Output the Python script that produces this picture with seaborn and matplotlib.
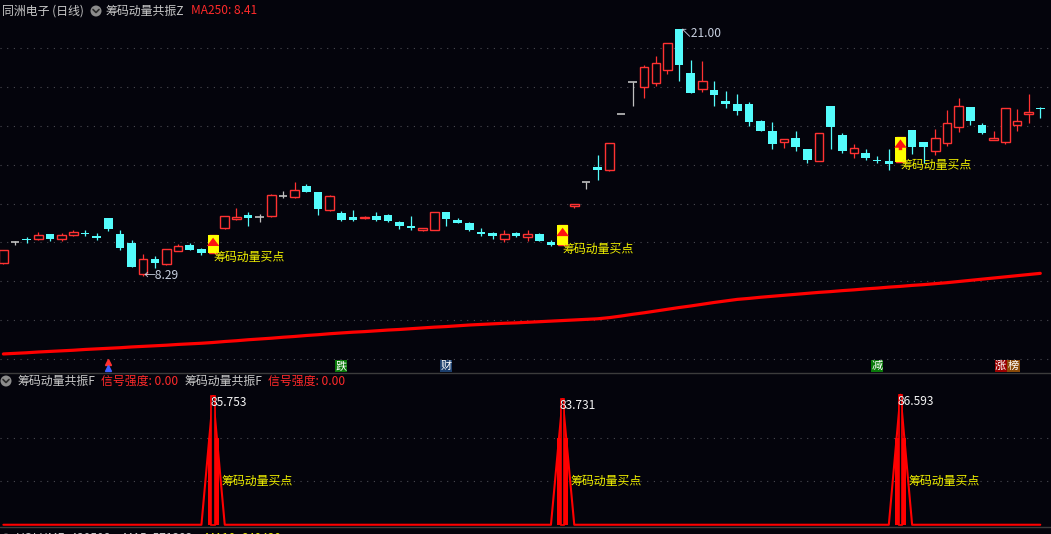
import matplotlib
matplotlib.use("Agg")
import matplotlib.pyplot as plt
import matplotlib.transforms as mtransforms
from matplotlib.lines import Line2D
from matplotlib.patches import Circle
import seaborn as sns

# -----------------------------
# Data
# -----------------------------
opens = [8.93, 10.04, 10.17, 10.20, 10.44, 10.16, 10.40, 10.51, 10.35, 11.25,
         10.44, 9.99, 8.36, 9.13, 8.88, 9.58, 9.87, 9.67, 9.44, 10.76,
         11.19, 11.42, 11.33, 11.38, 12.41, 12.33, 12.91, 12.60, 11.67, 11.54,
         11.33, 11.25, 11.36, 11.43, 11.06, 10.85, 10.64, 10.66, 11.57, 11.16,
         11.02, 10.56, 10.47, 10.18, 10.47, 10.27, 10.44, 10.04, 9.87, 11.88,
         13.13, 13.90, 13.72, 16.60, 18.25, 18.02, 18.23, 18.88, 21.00, 18.74,
         17.90, 17.85, 17.29, 17.13, 17.13, 16.26, 15.74, 15.19, 15.38, 14.81,
         14.21, 17.03, 15.54, 14.59, 14.59, 14.25, 14.20, 14.16, 15.79, 15.18,
         14.73, 15.11, 15.93, 16.96, 16.05, 15.29, 15.19, 16.05, 16.62, 16.91]
highs = [9.63, 10.06, 10.30, 10.53, 10.46, 10.50, 10.64, 10.64, 10.47, 11.26,
         10.64, 10.13, 9.39, 9.30, 9.66, 9.90, 9.99, 9.70, 10.39, 11.36,
         11.76, 11.56, 11.47, 12.48, 12.67, 13.12, 13.01, 12.62, 12.42, 11.62,
         11.67, 11.35, 11.57, 11.45, 11.10, 11.36, 10.76, 11.57, 11.58, 11.24,
         11.03, 10.75, 10.56, 10.64, 10.56, 10.64, 10.47, 10.13, 10.90, 11.98,
         13.13, 14.51, 15.11, 16.60, 18.25, 19.14, 19.60, 20.26, 21.00, 19.40,
         19.35, 18.32, 17.80, 17.65, 17.23, 16.30, 16.20, 15.35, 15.74, 14.83,
         15.62, 17.05, 15.62, 15.07, 14.81, 14.46, 14.81, 15.45, 15.80, 15.20,
         15.84, 16.82, 17.44, 16.98, 16.14, 15.74, 16.91, 16.87, 17.65, 16.99]
lows = [8.90, 9.87, 9.99, 10.13, 10.10, 10.06, 10.35, 10.33, 10.13, 10.60,
        9.61, 8.75, 8.29, 8.70, 8.85, 9.55, 9.60, 9.36, 9.44, 10.71,
        11.17, 10.85, 11.07, 11.30, 12.27, 12.30, 12.60, 11.42, 11.62, 11.12,
        11.10, 11.20, 11.10, 11.07, 10.71, 10.64, 10.59, 10.64, 10.87, 10.98,
        10.60, 10.33, 10.20, 10.01, 10.27, 10.10, 10.07, 9.80, 9.87, 11.79,
        12.74, 13.22, 13.70, 16.60, 17.04, 17.46, 18.07, 18.66, 18.32, 17.68,
        17.77, 17.03, 16.94, 16.57, 16.00, 15.72, 14.83, 14.88, 14.73, 14.11,
        14.20, 14.81, 14.63, 14.34, 14.25, 14.11, 13.73, 14.16, 14.56, 14.11,
        14.52, 14.98, 15.71, 16.05, 15.60, 15.28, 15.07, 15.74, 16.17, 16.40]
closes = [9.61, 10.04, 10.13, 10.37, 10.18, 10.39, 10.53, 10.44, 10.25, 10.69,
          9.73, 8.75, 9.13, 8.96, 9.65, 9.84, 9.61, 9.47, 10.39, 11.36,
          11.33, 11.25, 11.33, 12.43, 12.41, 12.70, 12.62, 11.72, 12.39, 11.16,
          11.16, 11.30, 11.16, 11.11, 10.85, 10.75, 10.75, 11.57, 11.21, 11.02,
          10.64, 10.44, 10.35, 10.44, 10.35, 10.45, 10.08, 9.89, 10.90, 11.98,
          13.13, 13.73, 15.11, 16.60, 18.25, 19.02, 19.23, 20.26, 19.14, 17.68,
          18.32, 17.59, 17.15, 16.79, 16.22, 15.76, 15.07, 15.33, 14.93, 14.25,
          15.62, 15.96, 14.71, 14.85, 14.37, 14.20, 14.04, 15.45, 14.90, 14.93,
          15.37, 16.14, 17.03, 16.27, 15.62, 15.36, 16.91, 16.27, 16.70, 16.86]
ma250 = [4.26, 4.29, 4.32, 4.36, 4.39, 4.42, 4.45, 4.49, 4.52, 4.55,
         4.58, 4.62, 4.65, 4.68, 4.71, 4.75, 4.78, 4.81, 4.85, 4.90,
         4.94, 4.99, 5.03, 5.07, 5.12, 5.16, 5.21, 5.25, 5.30, 5.34,
         5.38, 5.41, 5.45, 5.49, 5.52, 5.56, 5.60, 5.64, 5.67, 5.71,
         5.75, 5.78, 5.81, 5.84, 5.86, 5.89, 5.92, 5.95, 5.98, 6.01,
         6.04, 6.07, 6.13, 6.21, 6.30, 6.38, 6.47, 6.56, 6.65, 6.73,
         6.82, 6.91, 6.99, 7.07, 7.12, 7.18, 7.23, 7.28, 7.33, 7.38,
         7.43, 7.47, 7.52, 7.56, 7.61, 7.65, 7.70, 7.74, 7.79, 7.83,
         7.88, 7.93, 7.99, 8.05, 8.11, 8.17, 8.23, 8.29, 8.35, 8.41]

signal_days = [18, 48, 77]
signal_peaks = [85.753, 83.731, 86.593]
strength = [0.0] * len(closes)
for d, v in zip(signal_days, signal_peaks):
    strength[d] = v

grid_prices = [4, 6, 8, 10, 12, 14, 16, 18, 20]
sub_grid = [29.1, 57.8]
events = [(29, "跌", "#0a7a0a"), (38, "财", "#1c3f6e"), (75, "减", "#0a7a0a"),
          (85.6, "涨", "#9a0000"), (86.7, "榜", "#8a4a08")]

# -----------------------------
# Style
# -----------------------------
BG = "#04040c"
UP = "#ff3232"
DOWN = "#54fcfc"
FLAT = "#c0c0c0"
TXT = "#c8c8c8"
RED_TXT = "#ff2a2a"
YEL = "#ffff00"
GRID = "#4a4a52"

sns.set_theme(style="dark", rc={"axes.facecolor": BG, "figure.facecolor": BG})
plt.rcParams["font.family"] = ["Noto Sans CJK SC", "DejaVu Sans"]

W, H = 1051, 534
fig = plt.figure(figsize=(W / 100, H / 100), dpi=100, facecolor=BG)


def fy(py):
    return 1 - py / H


ax = fig.add_axes([0, fy(372), 1, (372 - 18) / H])
sub = fig.add_axes([0, fy(527), 1, (527 - 388) / H])
for a in (ax, sub):
    a.set_axis_off()
    a.set_xlim(-0.29, 89.92)
ax.set_ylim(3.33, 21.56)
sub.set_ylim(-1.5, 91.1)

idx = list(range(len(closes)))

# -----------------------------
# Main panel
# -----------------------------
for p in grid_prices:
    ax.axhline(p, color=GRID, lw=0.8, ls=(0, (1, 5)), zorder=0)

BW = 0.74
for i in idx:
    o, h, l, c = opens[i], highs[i], lows[i], closes[i]
    if c > o:
        col = UP
    elif c < o:
        col = DOWN
    else:
        col = FLAT
    ax.vlines(i, l, h, color=col, lw=0.9, zorder=2)
    if c > o:
        ax.bar(i, c - o, bottom=o, width=BW, facecolor=BG, edgecolor=UP, lw=1.0, zorder=3)
    elif c < o:
        ax.bar(i, o - c, bottom=c, width=BW, color=DOWN, lw=0, zorder=3)
    else:
        ax.hlines(c, i - BW / 2, i + BW / 2, color=col, lw=1.2, zorder=3)

sns.lineplot(x=idx, y=ma250, ax=ax, color="#ff0000", lw=2.3, zorder=4)

for d in signal_days:
    lo, hi = lows[d], highs[d]
    ax.bar(d, hi - lo, bottom=lo, width=0.95, color=YEL, lw=0, zorder=5)
    ax.annotate("", xy=(d, hi), xytext=(d, lo + 0.35 * (hi - lo)),
                arrowprops=dict(arrowstyle="simple,head_width=0.9,head_length=0.6,tail_width=0.25",
                                color="#ff1010", lw=0, mutation_scale=10), zorder=6)
    ax.annotate("筹码动量买点", xy=(d, lo), xytext=(0, -4), textcoords="offset pixels",
                ha="left", va="center", color="#f0f000", fontsize=8.6, zorder=7)

lo_i = lows.index(min(lows))
hi_i = highs.index(max(highs))
ax.annotate("←%.2f" % lows[lo_i], xy=(lo_i, lows[lo_i]), xytext=(0, 0),
            textcoords="offset pixels", ha="left", va="center", color="#c8d0e0", fontsize=8.6)
ax.annotate("↖%.2f" % highs[hi_i], xy=(hi_i, highs[hi_i]), xytext=(1, -5),
            textcoords="offset pixels", ha="left", va="center", color="#c8d0e0", fontsize=8.6)

trans = mtransforms.blended_transform_factory(ax.transData, ax.transAxes)
for x, ch, bgc in events:
    ax.text(x, 0.017, ch, transform=trans, ha="center", va="center", color="white",
            fontsize=8, bbox=dict(boxstyle="square,pad=0.05", fc=bgc, ec="none"))
ax.plot([9], [0.028], marker="^", ms=4, color="#ff3030", transform=trans, lw=0)
ax.plot([9], [0.012], marker="^", ms=4, color="#4060ff", transform=trans, lw=0)

# -----------------------------
# Sub panel
# -----------------------------
for g in sub_grid:
    sub.axhline(g, color=GRID, lw=0.8, ls=(0, (1, 5)), zorder=0)

sns.lineplot(x=idx, y=strength, ax=sub, color="#ff0000", lw=1.5, zorder=3)
for d, v in zip(signal_days, signal_peaks):
    sub.bar(d, 58, width=0.95, color="#ff0000", lw=0, zorder=2)
    sub.bar(d, v, width=0.3, facecolor=BG, edgecolor="#ff0000", lw=1.2, zorder=4)
    sub.annotate("%.3f" % v, xy=(d, v), xytext=(-3, 0), textcoords="offset pixels",
                 ha="left", va="top", color="#f4f4f4", fontsize=8.6, zorder=6)
    sub.annotate("筹码动量买点", xy=(d, sub_grid[0]), xytext=(8, 0), textcoords="offset pixels",
                 ha="left", va="center", color="#f0f000", fontsize=8.6, zorder=6)

# -----------------------------
# Frame lines and header texts
# -----------------------------
fig.add_artist(Line2D([0, 1], [fy(372.5)] * 2, color="#3c3c3c", lw=1))
fig.add_artist(Line2D([0, 1], [fy(527)] * 2, color="#3c3c3c", lw=1))


def icon(px, py):
    ident = mtransforms.IdentityTransform()
    fig.add_artist(Circle((px, H - py), 5.5, transform=ident, fc="#8c8c8c", ec="none"))
    fig.add_artist(Line2D([px - 3, px, px + 3], [H - py + 1.5, H - py - 1.5, H - py + 1.5],
                          transform=ident, color="#2a2a2a", lw=1.2))


def label(px, py, s, color):
    fig.text(px / W, fy(py), s, color=color, fontsize=8.6, ha="left", va="center")


label(2, 11, "同洲电子 (日线)", TXT)
icon(96, 11)
label(106, 11, "筹码动量共振Z", TXT)
label(191, 11, "MA250: 8.41", RED_TXT)

icon(6, 381)
label(17, 381, "筹码动量共振F", TXT)
label(101, 381, "信号强度: 0.00", RED_TXT)
label(184, 381, "筹码动量共振F", TXT)
label(268, 381, "信号强度: 0.00", RED_TXT)

icon(6, 539)
label(17, 539, "VOLUME: 430508", TXT)
label(123, 539, "MA5: 571383", TXT)
label(205, 539, "MA10: 640430", "#e8e800")

fig.savefig("out.png", dpi=100, facecolor=BG)
plt.close(fig)
